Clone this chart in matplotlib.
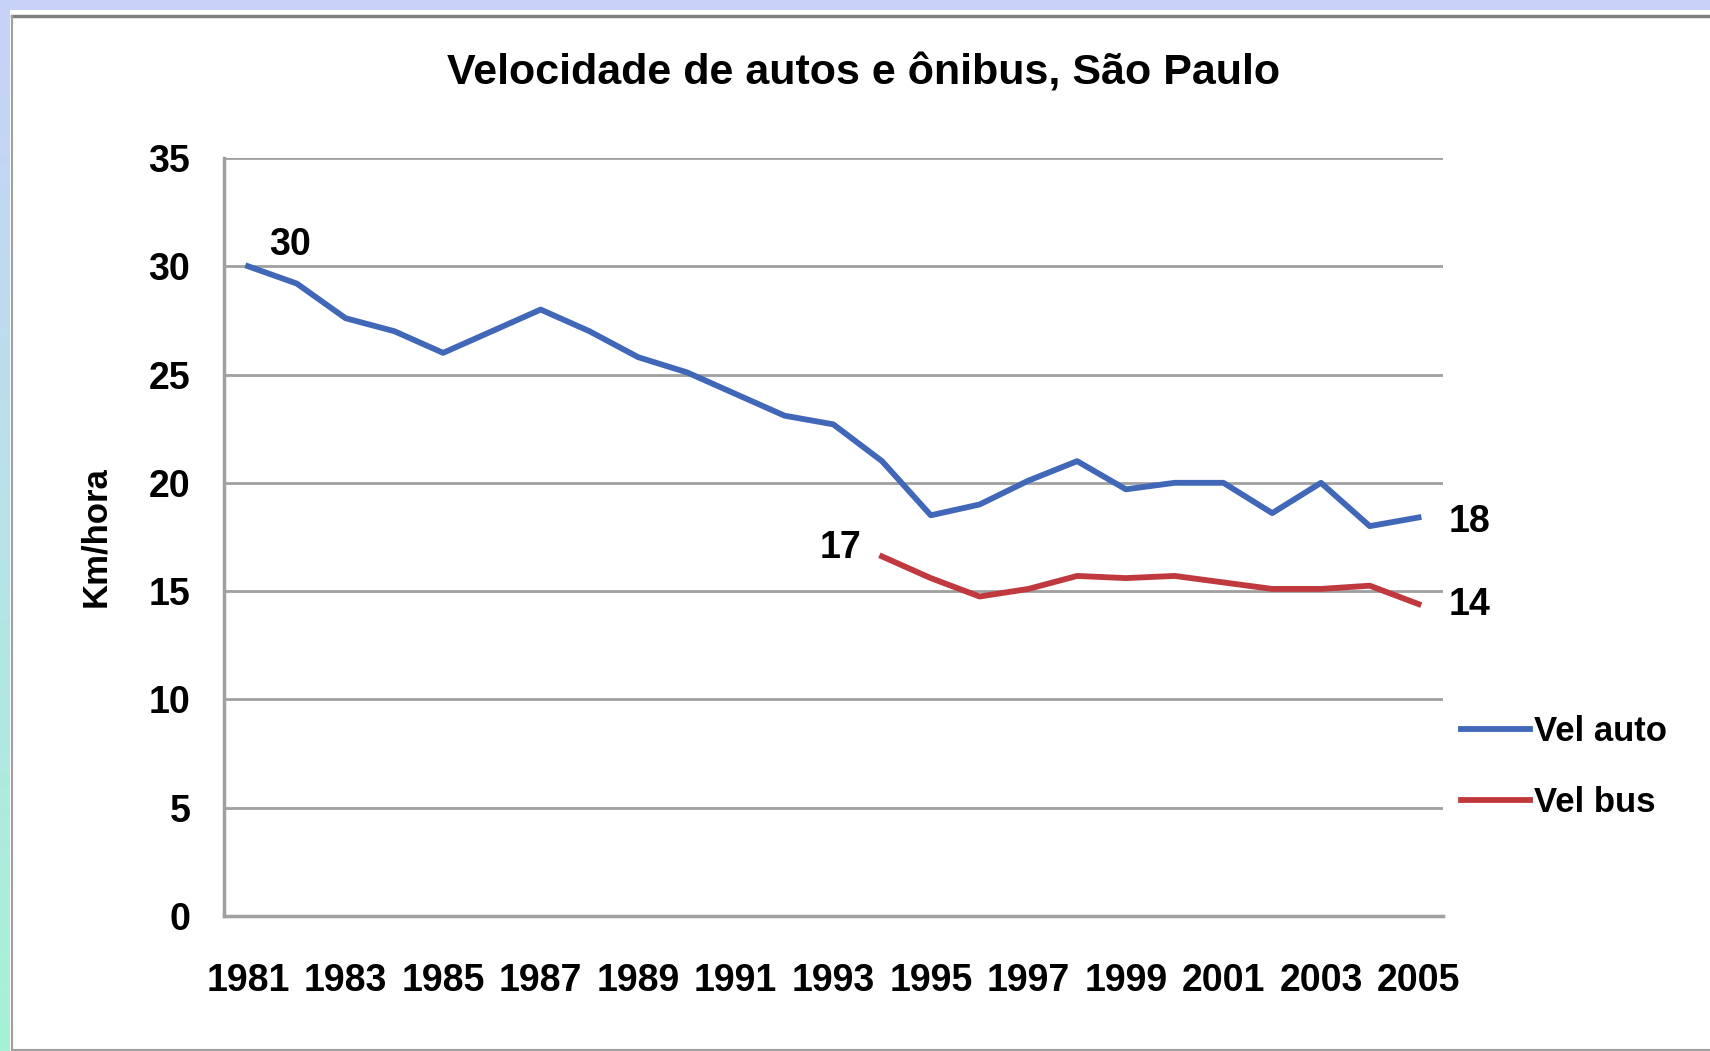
import matplotlib.pyplot as plt
import numpy as np

years = list(range(1981, 2006))
vel_auto = [30.0, 29.2, 27.6, 27.0, 26.0, 27.0, 28.0, 27.0, 25.8, 25.1, 24.1, 23.1, 22.7,
            21.0, 18.5, 19.0, 20.1, 21.0, 19.7, 20.0, 20.0, 18.6, 20.0, 18.0, 18.4]
bus_years = list(range(1994, 2006))
vel_bus = [16.6, 15.6, 14.75, 15.1, 15.7, 15.6, 15.7, 15.4, 15.1, 15.1, 15.25, 14.4]
yticks = [0, 5, 10, 15, 20, 25, 30, 35]

FONT = ['Liberation Sans', 'DejaVu Sans']
BLUE = '#4168B8'
RED = '#C0393F'
GRID = '#a0a0a0'

plt.rcParams['font.family'] = FONT
plt.rcParams['font.weight'] = 'bold'

fig = plt.figure(figsize=(17.1, 10.51), dpi=100)
fig.patch.set_facecolor('white')

# frame decoration: blue strip on top, blue-green gradient on the left
top = fig.add_axes([0, 1 - 10 / 1051, 1, 10 / 1051])
top.set_axis_off()
top.add_patch(plt.Rectangle((0, 0), 1, 1, color='#c8d2f8', transform=top.transAxes))
side = fig.add_axes([0, 0, 9 / 1710, 1])
grad = np.linspace(0, 1, 256).reshape(-1, 1)
side.imshow(grad, aspect='auto', extent=[0, 1, 0, 1],
            cmap=plt.matplotlib.colors.LinearSegmentedColormap.from_list(
                'edge', ['#c8d2f8', '#a6f2d6']))
side.set_axis_off()
fig.add_artist(plt.Line2D([12 / 1710, 1], [1 - 16 / 1051, 1 - 16 / 1051],
                          color='#808080', lw=2.5, transform=fig.transFigure))
fig.add_artist(plt.Line2D([12 / 1710, 12 / 1710], [1.5 / 1051, 1 - 16 / 1051],
                          color='#a0a0a0', lw=1.5, transform=fig.transFigure))
fig.add_artist(plt.Line2D([12 / 1710, 1], [1.5 / 1051, 1.5 / 1051],
                          color='#a0a0a0', lw=1.5, transform=fig.transFigure))

ax = fig.add_axes([0.1308, 0.1285, 0.8438 - 0.1308, 0.8497 - 0.1285])
x_auto = np.arange(len(years))
x_bus = np.array([years.index(y) for y in bus_years])

line_auto, = ax.plot(x_auto, vel_auto, color=BLUE, lw=4.2, solid_joinstyle='round', zorder=3)
line_bus, = ax.plot(x_bus, vel_bus, color=RED, lw=4.2, solid_joinstyle='round', zorder=3)

ax.set_xlim(-0.5, len(years) - 0.5)
ax.set_ylim(0, 35)
ax.set_yticks(yticks)
ax.set_xticks(x_auto[::2])
ax.set_xticklabels([str(y) for y in years[::2]])
ax.tick_params(axis='both', length=0, labelsize=27)
ax.tick_params(axis='y', pad=24)
ax.tick_params(axis='x', pad=34)
for lab in ax.get_xticklabels() + ax.get_yticklabels():
    lab.set_fontweight('bold')

ax.grid(axis='y', color=GRID, lw=2)
ax.set_axisbelow(True)
for s in ['top', 'right']:
    ax.spines[s].set_visible(False)
for s in ['left', 'bottom']:
    ax.spines[s].set_color(GRID)
    ax.spines[s].set_linewidth(2.5)

ax.set_ylabel('Km/hora', fontsize=25, fontweight='bold', labelpad=26)

# value labels at the ends of the series
lab_kw = dict(textcoords='offset points', ha='center', va='center', fontsize=27,
              fontweight='bold', annotation_clip=False)
ax.annotate(f'{vel_auto[0]:.0f}', (x_auto[0], vel_auto[0]), xytext=(30, 15), **lab_kw)
ax.annotate(f'{vel_bus[0]:.0f}', (x_bus[0], vel_bus[0]), xytext=(-30, 6), **lab_kw)
ax.annotate(f'{vel_auto[-1]:.0f}', (x_auto[-1], vel_auto[-1]), xytext=(37, -3), **lab_kw)
ax.annotate(f'{vel_bus[-1]:.0f}', (x_bus[-1], vel_bus[-1]), xytext=(37, -1), **lab_kw)

fig.legend([line_auto, line_bus], ['Vel auto', 'Vel bus'],
           loc='center left', bbox_to_anchor=(0.836, 0.27), frameon=False,
           handlelength=2.0, handletextpad=0.1, labelspacing=1.1,
           prop={'weight': 'bold', 'size': 25, 'family': FONT})

fig.text(0.505, 0.93, 'Velocidade de autos e ônibus, São Paulo', ha='center', va='center',
         fontsize=31, fontweight='bold')

fig.savefig('out.png', dpi=100)
